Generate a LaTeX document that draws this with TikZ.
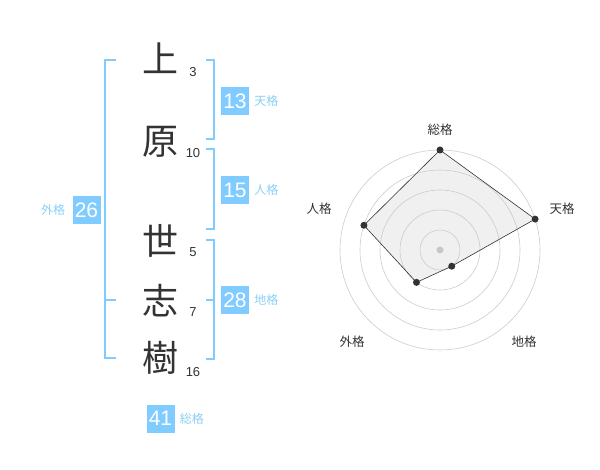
\documentclass[tikz,border=0pt]{standalone}
\usepackage{fontspec}
\setmainfont{Liberation Sans}
\newfontfamily\jpfont{Noto Sans CJK JP}
\usepackage{xcolor}
\usetikzlibrary{positioning, calc}
\definecolor{skybox}{HTML}{80CBFF}
\definecolor{skytext}{HTML}{8BCFF7}
\definecolor{ink}{HTML}{333333}

\begin{document}
\begin{tikzpicture}[
  x=1pt, y=-1pt,
  node distance = 5pt,
  kanji/.style   = {font=\jpfont\fontsize{36}{36}\selectfont, text=ink, inner sep=0pt},
  strokes/.style = {font=\fontsize{13}{13}\selectfont, text=ink, inner sep=0pt},
  numbox/.style  = {rectangle, fill=skybox, text=white, minimum size=28pt, inner sep=0pt,
                    font=\fontsize{21}{21}\selectfont},
  kaku/.style    = {font=\jpfont\fontsize{12}{12}\selectfont, text=skytext, inner sep=0pt},
  brk/.style     = {draw=skybox, line width=1.8pt},
  ring/.style    = {draw=black!20, line width=0.6pt},
  axislbl/.style = {font=\jpfont\fontsize{12.5}{12.5}\selectfont, text=ink},
  vdot/.style    = {circle, fill=ink, inner sep=0pt, minimum size=7pt}
]
\useasboundingbox (0,0) rectangle (600,470);

% ── Name column ──────────────────────────────────────────────────────────────
\node[kanji] (k1) at (160,58)  {上};
\node[kanji] (k2) at (160,142) {原};
\node[kanji] (k3) at (160,241) {世};
\node[kanji] (k4) at (160,301) {志};
\node[kanji] (k5) at (160,358) {樹};

% ── Stroke counts ────────────────────────────────────────────────────────────
\node[strokes] (s1) at (193,72)  {3};
\node[strokes] (s2) at (193,153) {10};
\node[strokes] (s3) at (193,252) {5};
\node[strokes] (s4) at (193,312) {7};
\node[strokes] (s5) at (193,372) {16};

% ── Brackets ─────────────────────────────────────────────────────────────────
\draw[brk] (116,60) -- (105,60) -- (105,358) -- (116,358);
\draw[brk] (105,300) -- (116,300);
\draw[brk] (206,60) -- (214,60) -- (214,139) -- (206,139);
\draw[brk] (206,149) -- (214,149) -- (214,229) -- (206,229);
\draw[brk] (206,240) -- (214,240) -- (214,359) -- (206,359);
\draw[brk] (214,300) -- (206,300);

% ── Score boxes ──────────────────────────────────────────────────────────────
\node[numbox] (ten)   at (235,101)   {13};
\node[numbox] (jin)   at (235,190)   {15};
\node[numbox] (chi)   at (235,300)   {28};
\node[numbox] (gai)   at (86.5,210)  {26};
\node[numbox] (sou)   at (160.5,418.5) {41};

\node[kaku, right=of ten] (tenl) {天格};
\node[kaku, right=of jin] (jinl) {人格};
\node[kaku, right=of chi] (chil) {地格};
\node[kaku, left=7pt of gai] (gail) {外格};
\node[kaku, right=of sou] (soul) {総格};

% ── Radar chart ──────────────────────────────────────────────────────────────
\coordinate (ctr) at (440,250);
\coordinate (rsou) at ($(ctr)+(90:100pt)$);
\coordinate (rten) at ($(ctr)+(18:100pt)$);
\coordinate (rchi) at ($(ctr)+(-54:20pt)$);
\coordinate (rgai) at ($(ctr)+(-126:40pt)$);
\coordinate (rjin) at ($(ctr)+(162:80pt)$);

\fill[black!6] (rsou) -- (rten) -- (rchi) -- (rgai) -- (rjin) -- cycle;
\foreach \r in {20,40,...,100}
  \draw[ring] (ctr) circle[radius=\r pt];
\fill[black!22] (ctr) circle[radius=3.5pt];
\draw[ink, line width=0.6pt] (rsou) -- (rten) -- (rchi) -- (rgai) -- (rjin) -- cycle;
\foreach \p in {rsou,rten,rchi,rgai,rjin}
  \node[vdot] at (\p) {};

\node[axislbl] (asou) at (440,130)   {総格};
\node[axislbl] (aten) at (562,209)   {天格};
\node[axislbl] (achi) at (524,342)   {地格};
\node[axislbl] (agai) at (352,342)   {外格};
\node[axislbl] (ajin) at (319,209)   {人格};
\end{tikzpicture}
\end{document}
